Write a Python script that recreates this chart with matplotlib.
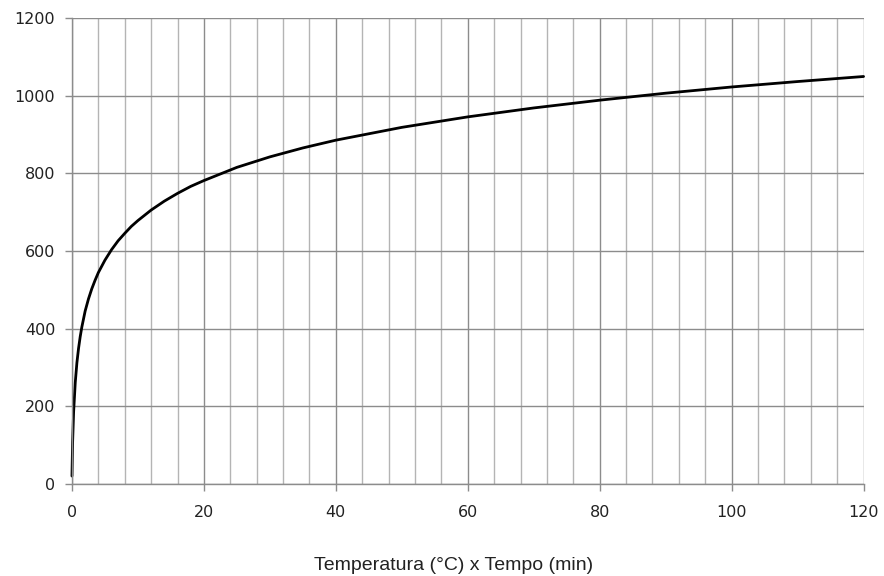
import matplotlib.pyplot as plt
from matplotlib.ticker import MultipleLocator

# time (min) and gas temperature (degC)
tempo = [0, 0.1, 0.25, 0.5, 0.75, 1, 1.25, 1.5, 2, 2.5, 3, 3.5, 4, 5, 6, 7,
         8, 9, 10, 12, 14, 16, 18, 20, 25, 30, 35, 40, 50, 60, 70, 80, 90,
         100, 110, 120]
temperatura = [20, 108, 185, 261, 312, 349, 379, 404, 445, 476, 502, 524,
               544, 576, 603, 626, 645, 663, 678, 705, 728, 748, 766, 781,
               815, 842, 865, 885, 918, 945, 968, 988, 1006, 1022, 1036, 1049]

x_ticks = [0, 20, 40, 60, 80, 100, 120]
y_ticks = [0, 200, 400, 600, 800, 1000, 1200]

fig = plt.figure(figsize=(8.84, 5.76), dpi=100)
ax = fig.add_axes([0.0814, 0.160, 0.8955, 0.809])

ax.set_xlim(0, 120)
ax.set_ylim(0, 1200)
ax.set_xticks(x_ticks)
ax.set_yticks(y_ticks)
ax.xaxis.set_minor_locator(MultipleLocator(4))

ax.grid(which='major', axis='both', color='#8c8c8c', linewidth=1.0)
ax.grid(which='minor', axis='x', color='#b4b4b4', linewidth=1.0)
ax.set_axisbelow(True)

for side in ['top', 'right']:
    ax.spines[side].set_visible(False)
for side in ['left', 'bottom']:
    ax.spines[side].set_color('#8c8c8c')
    ax.spines[side].set_linewidth(1.0)

ax.tick_params(which='major', length=5, width=1, color='#8c8c8c',
               labelsize=11.5, labelcolor='#222222')
ax.tick_params(axis='y', pad=7)
ax.tick_params(axis='x', pad=10)
ax.tick_params(which='minor', length=0)

ax.plot(tempo, temperatura, color='black', linewidth=2.0,
        solid_capstyle='round', clip_on=False)

ax.set_xlabel('Temperatura (°C) x Tempo (min)', fontsize=14,
              family='Liberation Sans', color='#222222')
ax.xaxis.set_label_coords(0.482, -0.158)

fig.savefig('out.png', dpi=100)
